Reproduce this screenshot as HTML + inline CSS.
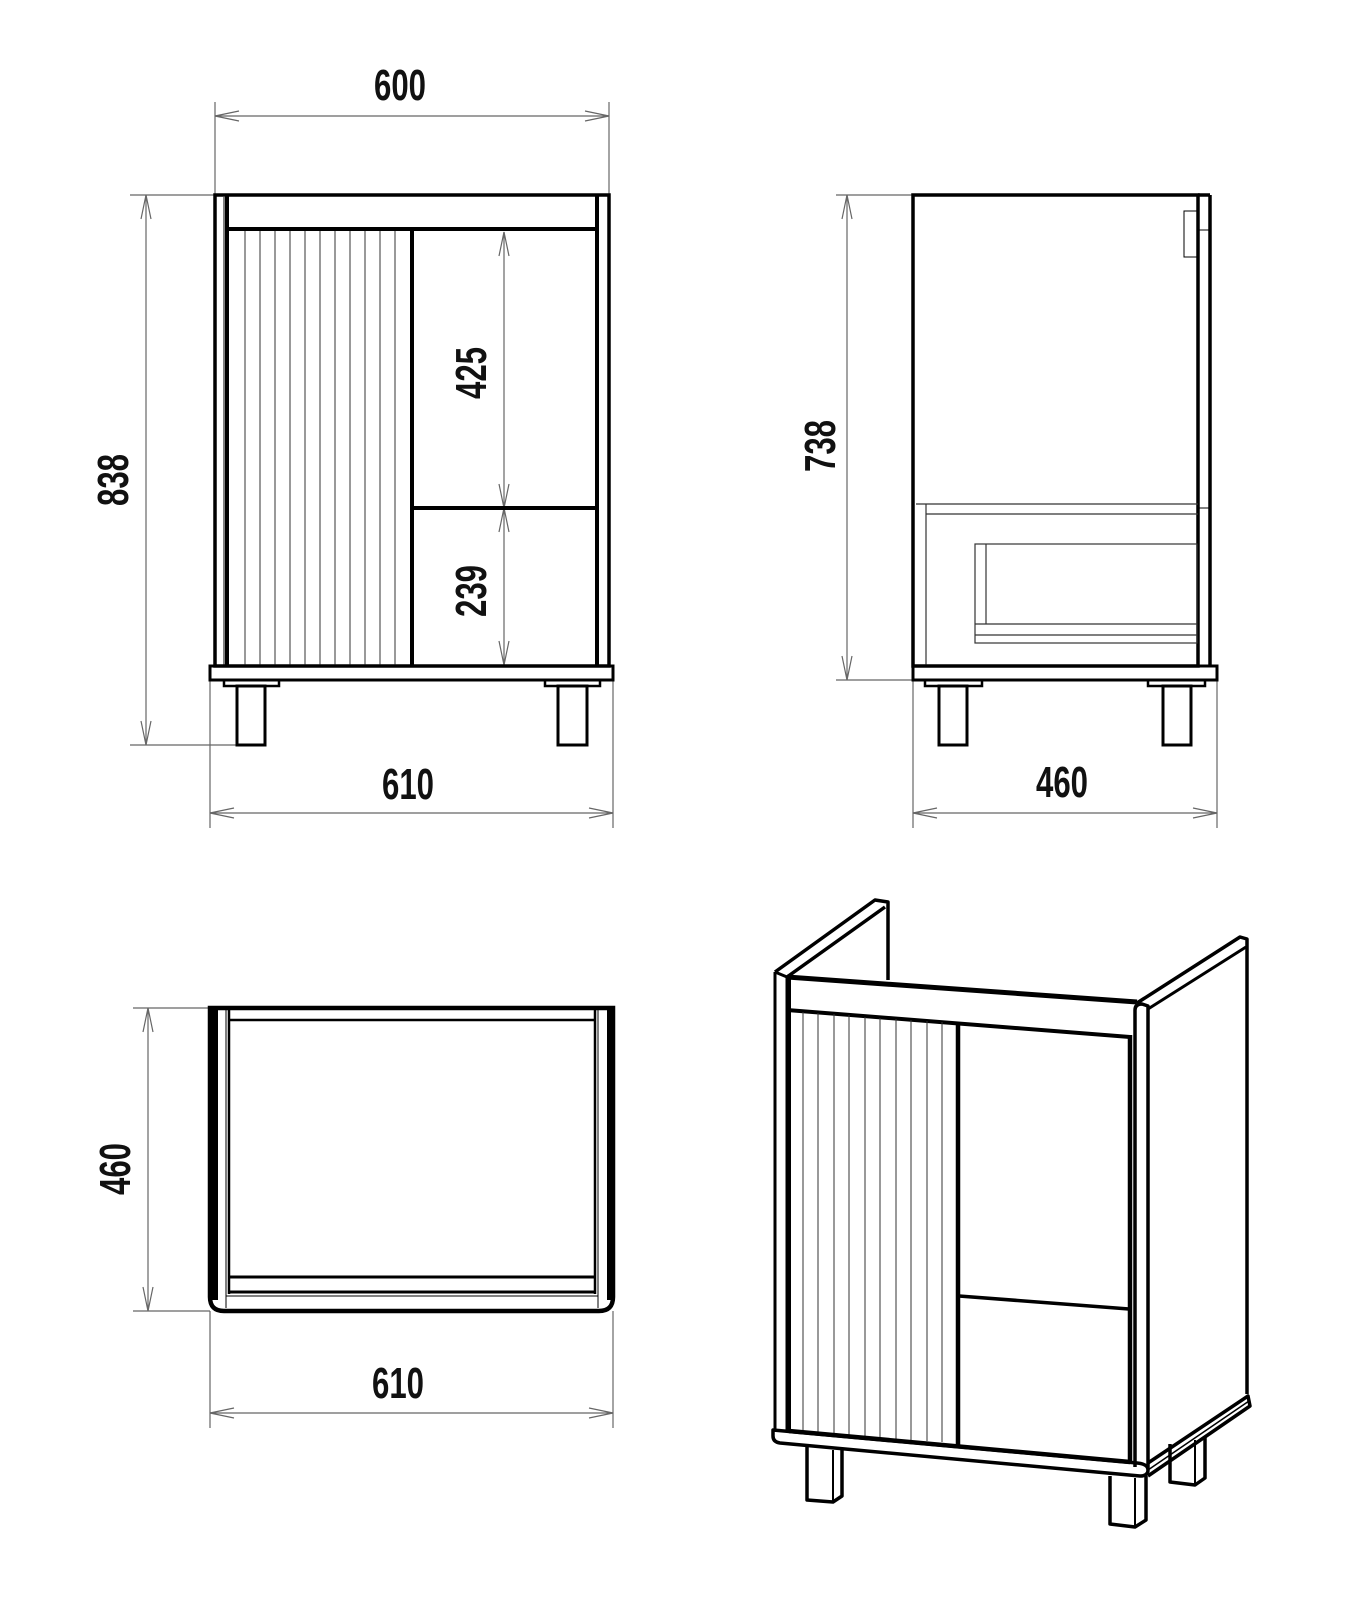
<!DOCTYPE html>
<html><head><meta charset="utf-8"><style>
html,body{margin:0;padding:0;background:#fff;}
svg{display:block}
text{font-family:"Liberation Sans Narrow","Liberation Sans",sans-serif;font-weight:bold;fill:#111;}
</style></head><body>
<svg width="1347" height="1600" viewBox="0 0 1347 1600" xmlns="http://www.w3.org/2000/svg">
<g fill="none" stroke="#666" stroke-width="1.2">
<!-- 600 dim -->
<line x1="215" y1="102" x2="215" y2="195"/><line x1="609" y1="102" x2="609" y2="195"/>
<line x1="215" y1="116" x2="609" y2="116"/>
<polyline points="239,111 215,116 239,121"/><polyline points="585,111 609,116 585,121"/>
<!-- 838 dim -->
<line x1="130" y1="195" x2="215" y2="195"/><line x1="130" y1="745" x2="237" y2="745"/>
<line x1="146" y1="195" x2="146" y2="745"/>
<polyline points="141,219 146,195 151,219"/><polyline points="141,721 146,745 151,721"/>
<!-- 610 front -->
<line x1="210" y1="680" x2="210" y2="828"/><line x1="613" y1="680" x2="613" y2="828"/>
<line x1="210" y1="813" x2="613" y2="813"/>
<polyline points="234,808 210,813 234,818"/><polyline points="589,808 613,813 589,818"/>
<!-- 425 / 239 -->
<line x1="504" y1="232" x2="504" y2="665"/>
<polyline points="499,256 504,232 509,256"/><polyline points="499,484 504,508 509,484"/>
<polyline points="499,532 504,508 509,532"/><polyline points="499,641 504,665 509,641"/>
<!-- 738 -->
<line x1="836" y1="195" x2="913" y2="195"/><line x1="836" y1="680" x2="913" y2="680"/>
<line x1="847" y1="195" x2="847" y2="680"/>
<polyline points="842,219 847,195 852,219"/><polyline points="842,656 847,680 852,656"/>
<!-- 460 side -->
<line x1="913" y1="680" x2="913" y2="828"/><line x1="1217" y1="680" x2="1217" y2="828"/>
<line x1="913" y1="813" x2="1217" y2="813"/>
<polyline points="937,808 913,813 937,818"/><polyline points="1193,808 1217,813 1193,818"/>
<!-- 460 top view -->
<line x1="133" y1="1008" x2="210" y2="1008"/><line x1="133" y1="1311" x2="210" y2="1311"/>
<line x1="148" y1="1008" x2="148" y2="1311"/>
<polyline points="143,1032 148,1008 153,1032"/><polyline points="143,1287 148,1311 153,1287"/>
<!-- 610 top view -->
<line x1="210" y1="1311" x2="210" y2="1428"/><line x1="613" y1="1311" x2="613" y2="1428"/>
<line x1="210" y1="1413" x2="613" y2="1413"/>
<polyline points="234,1408 210,1413 234,1418"/><polyline points="589,1408 613,1413 589,1418"/>
</g>

<!-- text -->
<text x="400" y="100" text-anchor="middle" font-size="44" textLength="52" lengthAdjust="spacingAndGlyphs">600</text>
<text x="408" y="799" text-anchor="middle" font-size="44" textLength="52" lengthAdjust="spacingAndGlyphs">610</text>
<text x="1062" y="797" text-anchor="middle" font-size="44" textLength="52" lengthAdjust="spacingAndGlyphs">460</text>
<text x="398" y="1398" text-anchor="middle" font-size="44" textLength="52" lengthAdjust="spacingAndGlyphs">610</text>
<text transform="translate(128,480) rotate(-90)" text-anchor="middle" font-size="44" textLength="52" lengthAdjust="spacingAndGlyphs">838</text>
<text transform="translate(835,446) rotate(-90)" text-anchor="middle" font-size="44" textLength="52" lengthAdjust="spacingAndGlyphs">738</text>
<text transform="translate(130,1169) rotate(-90)" text-anchor="middle" font-size="44" textLength="52" lengthAdjust="spacingAndGlyphs">460</text>
<text transform="translate(486,373) rotate(-90)" text-anchor="middle" font-size="44" textLength="52" lengthAdjust="spacingAndGlyphs">425</text>
<text transform="translate(486,591) rotate(-90)" text-anchor="middle" font-size="44" textLength="52" lengthAdjust="spacingAndGlyphs">239</text>

<!-- FRONT VIEW -->
<g fill="none" stroke="#000">
<rect x="215" y="195" width="394" height="471" stroke-width="3.5"/>
<line x1="227" y1="195" x2="227" y2="666" stroke-width="4"/>
<line x1="224" y1="197" x2="224" y2="666" stroke-width="1"/>
<line x1="597" y1="195" x2="597" y2="666" stroke-width="4"/>
<line x1="227" y1="229" x2="597" y2="229" stroke-width="4"/>
<line x1="412" y1="229" x2="412" y2="666" stroke-width="4"/>
<line x1="412" y1="508" x2="597" y2="508" stroke-width="4"/>
<g stroke-width="1" stroke="#333">
<line x1="245" y1="231" x2="245" y2="666"/><line x1="260" y1="231" x2="260" y2="666"/><line x1="275" y1="231" x2="275" y2="666"/><line x1="290" y1="231" x2="290" y2="666"/><line x1="305" y1="231" x2="305" y2="666"/><line x1="320" y1="231" x2="320" y2="666"/><line x1="335" y1="231" x2="335" y2="666"/><line x1="350" y1="231" x2="350" y2="666"/><line x1="365" y1="231" x2="365" y2="666"/><line x1="380" y1="231" x2="380" y2="666"/><line x1="395" y1="231" x2="395" y2="666"/>
</g>
<rect x="210" y="666" width="403" height="14" stroke-width="3"/>
<rect x="224" y="680" width="55" height="6" stroke-width="2.5"/>
<rect x="545" y="680" width="55" height="6" stroke-width="2.5"/>
<rect x="237" y="686" width="28" height="59" stroke-width="3"/>
<rect x="558" y="686" width="29" height="59" stroke-width="3"/>
</g>

<!-- SIDE VIEW -->
<g fill="none" stroke="#000">
<rect x="913" y="195" width="285" height="471" stroke-width="3.5"/>
<line x1="1210" y1="195" x2="1210" y2="666" stroke-width="3.5"/>
<line x1="1198" y1="195" x2="1210" y2="195" stroke-width="3.5"/>
<rect x="1184" y="211" width="13" height="46" stroke-width="1"/>
<line x1="1198" y1="230" x2="1210" y2="230" stroke-width="1"/>
<line x1="1198" y1="508" x2="1210" y2="508" stroke-width="1"/>
<g stroke-width="1.2" stroke="#333">
<line x1="916" y1="504" x2="1198" y2="504"/>
<line x1="926" y1="514" x2="1198" y2="514"/>
<line x1="926" y1="504" x2="926" y2="666"/>
<rect x="975" y="544" width="222" height="99"/>
<line x1="986" y1="544" x2="986" y2="624"/>
<line x1="975" y1="624" x2="1197" y2="624"/>
<line x1="975" y1="635" x2="1197" y2="635"/>
</g>
<rect x="913" y="666" width="304" height="14" stroke-width="3"/>
<rect x="925" y="680" width="57" height="6" stroke-width="2.5"/>
<rect x="1148" y="680" width="57" height="6" stroke-width="2.5"/>
<rect x="939" y="686" width="28" height="59" stroke-width="3"/>
<rect x="1163" y="686" width="28" height="59" stroke-width="3"/>
</g>

<!-- TOP VIEW -->
<g fill="none" stroke="#000">
<path d="M210,1008 H613 V1297 Q613,1311 599,1311 H224 Q210,1311 210,1297 Z" stroke-width="4.5"/>
<line x1="215" y1="1008" x2="215" y2="1300" stroke-width="6"/>
<line x1="610" y1="1008" x2="610" y2="1300" stroke-width="6"/>
<line x1="226" y1="1010" x2="226" y2="1308" stroke-width="1"/>
<line x1="229" y1="1010" x2="229" y2="1294" stroke-width="2.5"/>
<line x1="598" y1="1010" x2="598" y2="1308" stroke-width="1"/>
<line x1="595" y1="1010" x2="595" y2="1294" stroke-width="2.5"/>
<line x1="229" y1="1020" x2="595" y2="1020" stroke-width="2.5"/>
<line x1="229" y1="1277" x2="595" y2="1277" stroke-width="3"/>
<line x1="229" y1="1292" x2="595" y2="1292" stroke-width="3"/>
<line x1="226" y1="1296" x2="598" y2="1296" stroke-width="1"/>
</g>

<!-- ISOMETRIC -->
<g fill="none" stroke="#000" stroke-linejoin="round">
<!-- back-left panel -->
<polyline points="775,972 875,900 888,902 888,980" stroke-width="3.5"/>
<line x1="787" y1="977" x2="885" y2="907" stroke-width="3.5"/>
<!-- top rail -->
<line x1="787" y1="977" x2="1137" y2="1002" stroke-width="5"/>
<line x1="787" y1="1010" x2="1130" y2="1037" stroke-width="4"/>
<!-- left front post -->
<path d="M775,972 L787,977 L787,1430" stroke-width="3"/>
<line x1="775" y1="972" x2="775" y2="1432" stroke-width="3"/>
<line x1="789" y1="977" x2="789" y2="1430" stroke-width="4"/>
<!-- door divider -->
<line x1="958" y1="1024" x2="958" y2="1445" stroke-width="4.5"/>
<!-- right inner -->
<line x1="1130" y1="1035" x2="1130" y2="1462" stroke-width="4.5"/>
<!-- drawer divider -->
<line x1="959" y1="1296" x2="1129" y2="1309" stroke-width="3.5"/>
<!-- grooves -->
<g stroke-width="1" stroke="#333">
<line x1="803" y1="1012" x2="803" y2="1432"/><line x1="818" y1="1013" x2="818" y2="1433"/><line x1="834" y1="1014" x2="834" y2="1434"/><line x1="849" y1="1015" x2="849" y2="1435"/><line x1="865" y1="1017" x2="865" y2="1436"/><line x1="880" y1="1018" x2="880" y2="1438"/><line x1="896" y1="1019" x2="896" y2="1439"/><line x1="911" y1="1020" x2="911" y2="1440"/><line x1="927" y1="1021" x2="927" y2="1441"/><line x1="942" y1="1022" x2="942" y2="1442"/>
</g>
<!-- right front post -->
<path d="M1135,1467 L1135,1010 Q1135,1004 1142,1004 L1148,1006 L1148,1468" stroke-width="3.5"/>
<!-- right side panel -->
<polyline points="1137,1003 1240,937 1247,939 1247,1394" stroke-width="3.5"/>
<line x1="1148" y1="1009" x2="1246" y2="947" stroke-width="3"/>
<!-- base plinth -->
<path d="M773,1430 L1137,1463 Q1148,1464 1148,1470 Q1148,1476 1140,1476 L780,1443 Q773,1442 773,1436 Z" stroke-width="3.5"/>
<line x1="789" y1="1431" x2="1130" y2="1462" stroke-width="4.5"/>
<path d="M1148,1463 L1248,1396 L1250,1406 L1148,1476" stroke-width="3.5"/>
<line x1="1148" y1="1470" x2="1249" y2="1401" stroke-width="1.5"/>
<!-- legs -->
<path d="M807,1446 V1500 L833,1502 L842,1496 V1448" stroke-width="3.5"/>
<line x1="833" y1="1450" x2="833" y2="1502" stroke-width="2"/>
<path d="M1110,1476 V1524 L1135,1527 L1146,1520 V1476" stroke-width="3.5"/>
<line x1="1135" y1="1478" x2="1135" y2="1527" stroke-width="2"/>
<path d="M1170,1444 V1482 L1195,1485 L1205,1478 V1436" stroke-width="3.5"/>
<line x1="1195" y1="1440" x2="1195" y2="1485" stroke-width="2"/>
</g>
</svg>
</body></html>
